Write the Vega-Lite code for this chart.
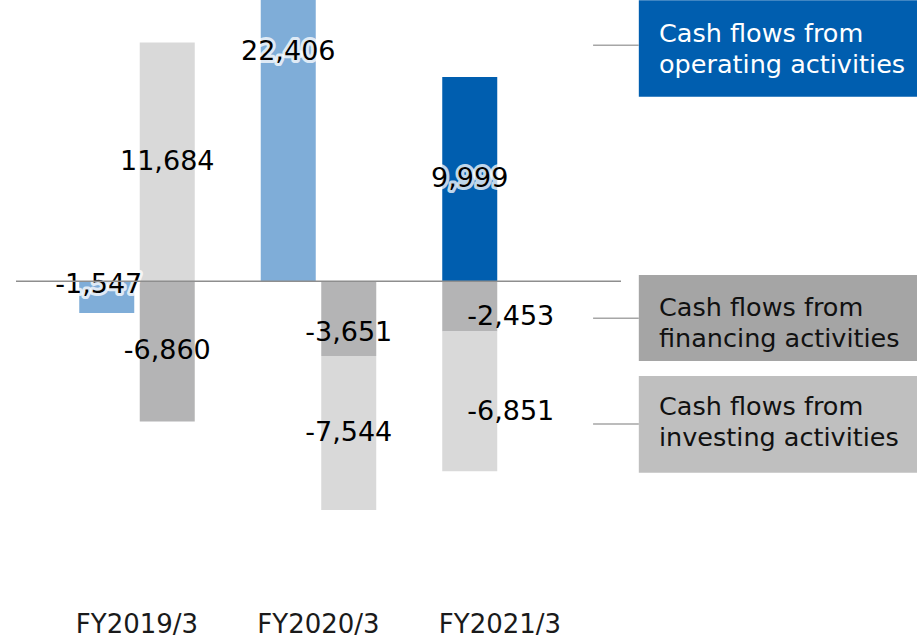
{
  "$schema": "https://vega.github.io/schema/vega-lite/v6.json",
  "background": "white",
  "padding": {"left": 15, "top": 0, "right": 0, "bottom": 0},
  "spacing": 0,
  "bounds": "flush",
  "config": {
    "view": {"stroke": null},
    "font": "DejaVu Sans",
    "locale": {"number": {"decimal": ".", "thousands": ",", "grouping": [3], "currency": ["$", ""], "minus": "-"}}
  },
  "resolve": {"scale": {"color": "independent", "fill": "independent"}},
  "hconcat": [
    {
      "width": 605,
      "height": 600,
      "layer": [
        {
          "data": {"values": [
            {"year": "FY2019/3", "series": "Operating", "column": "left", "amount": -1547},
            {"year": "FY2019/3", "series": "Investing", "column": "right", "amount": 11684},
            {"year": "FY2019/3", "series": "Financing", "column": "right", "amount": -6860},
            {"year": "FY2020/3", "series": "Operating", "column": "left", "amount": 22406},
            {"year": "FY2020/3", "series": "Financing", "column": "right", "amount": -3651},
            {"year": "FY2020/3", "series": "Investing", "column": "right", "amount": -7544},
            {"year": "FY2021/3", "series": "Operating", "column": "left", "amount": 9999},
            {"year": "FY2021/3", "series": "Financing", "column": "left", "amount": -2453},
            {"year": "FY2021/3", "series": "Investing", "column": "left", "amount": -6851}
          ]},
          "transform": [
            {"stack": "amount", "groupby": ["year", "column"], "sort": [{"field": "series", "order": "ascending"}], "offset": "zero", "as": ["lo", "hi"]},
            {"calculate": "(datum.lo + datum.hi) / 2", "as": "mid"}
          ],
          "encoding": {
            "x": {
              "field": "year", "type": "nominal", "sort": null,
              "scale": {"domain": ["FY2019/3", "FY2020/3", "FY2021/3"], "paddingInner": 0.3333, "paddingOuter": 0.3333},
              "axis": {"title": null, "domain": false, "ticks": false, "tickSize": 0, "labelAngle": 0, "labelFont": "DejaVu Sans", "labelFontSize": 26, "labelColor": "#1a1a1a", "labelPadding": 32, "labelBaseline": "alphabetic"}
            },
            "xOffset": {"field": "column", "type": "nominal", "scale": {"domain": ["left", "right"], "paddingInner": 0.0909, "paddingOuter": 0.04545}}
          },
          "layer": [
            {
              "mark": {"type": "bar", "clip": true},
              "encoding": {
                "y": {"field": "hi", "type": "quantitative", "scale": {"domain": [-15600, 13769], "nice": false, "zero": false}, "axis": null},
                "y2": {"field": "lo"},
                "color": {
                  "condition": {"test": "datum.series === 'Operating' && datum.year !== 'FY2021/3'", "value": "#7FADD8"},
                  "field": "series", "type": "nominal",
                  "scale": {"domain": ["Operating", "Financing", "Investing"], "range": ["#005EAF", "#B4B4B5", "#D9D9D9"]},
                  "legend": null
                }
              }
            },
            {
              "transform": [{"filter": "datum.series === 'Operating' && datum.year !== 'FY2019/3'"}],
              "mark": {"type": "text", "font": "DejaVu Sans", "fontSize": 27, "align": "center", "baseline": "middle", "color": "white", "stroke": "white", "strokeWidth": 6, "strokeOpacity": 0.75, "strokeJoin": "round"},
              "encoding": {
                "y": {"field": "mid", "type": "quantitative", "scale": {"domain": [-15600, 13769], "nice": false, "zero": false}, "axis": null},
                "text": {"field": "amount", "type": "quantitative", "format": ","}
              }
            },
            {
              "transform": [{"filter": "datum.series === 'Operating' && datum.year !== 'FY2019/3'"}],
              "mark": {"type": "text", "font": "DejaVu Sans", "fontSize": 27, "align": "center", "baseline": "middle", "color": "#000000"},
              "encoding": {
                "y": {"field": "mid", "type": "quantitative", "scale": {"domain": [-15600, 13769], "nice": false, "zero": false}, "axis": null},
                "text": {"field": "amount", "type": "quantitative", "format": ","}
              }
            },
            {
              "transform": [{"filter": "datum.series === 'Operating' && datum.year === 'FY2019/3'"}],
              "mark": {"type": "text", "font": "DejaVu Sans", "fontSize": 27, "align": "center", "baseline": "middle", "dx": -8, "dy": -12, "color": "white", "stroke": "white", "strokeWidth": 6, "strokeOpacity": 0.75, "strokeJoin": "round"},
              "encoding": {
                "y": {"field": "mid", "type": "quantitative", "scale": {"domain": [-15600, 13769], "nice": false, "zero": false}, "axis": null},
                "text": {"field": "amount", "type": "quantitative", "format": ","}
              }
            },
            {
              "transform": [{"filter": "datum.series === 'Operating' && datum.year === 'FY2019/3'"}],
              "mark": {"type": "text", "font": "DejaVu Sans", "fontSize": 27, "align": "center", "baseline": "middle", "dx": -8, "dy": -12, "color": "#000000"},
              "encoding": {
                "y": {"field": "mid", "type": "quantitative", "scale": {"domain": [-15600, 13769], "nice": false, "zero": false}, "axis": null},
                "text": {"field": "amount", "type": "quantitative", "format": ","}
              }
            },
            {
              "transform": [{"filter": "datum.series !== 'Operating' && (datum.year === 'FY2019/3' || (datum.year === 'FY2020/3' && datum.series === 'Investing'))"}],
              "mark": {"type": "text", "font": "DejaVu Sans", "fontSize": 27, "align": "center", "baseline": "middle", "color": "#000000"},
              "encoding": {
                "y": {"field": "mid", "type": "quantitative", "scale": {"domain": [-15600, 13769], "nice": false, "zero": false}, "axis": null},
                "text": {"field": "amount", "type": "quantitative", "format": ","}
              }
            },
            {
              "transform": [{"filter": "datum.year === 'FY2020/3' && datum.series === 'Financing'"}],
              "mark": {"type": "text", "font": "DejaVu Sans", "fontSize": 27, "align": "center", "baseline": "middle", "dy": 14, "color": "#000000"},
              "encoding": {
                "y": {"field": "mid", "type": "quantitative", "scale": {"domain": [-15600, 13769], "nice": false, "zero": false}, "axis": null},
                "text": {"field": "amount", "type": "quantitative", "format": ","}
              }
            },
            {
              "transform": [{"filter": "datum.year === 'FY2021/3' && datum.series !== 'Operating'"}],
              "mark": {"type": "text", "font": "DejaVu Sans", "fontSize": 27, "align": "center", "baseline": "middle", "dx": 41, "dy": 11, "color": "#000000"},
              "encoding": {
                "y": {"field": "mid", "type": "quantitative", "scale": {"domain": [-15600, 13769], "nice": false, "zero": false}, "axis": null},
                "text": {"field": "amount", "type": "quantitative", "format": ","}
              }
            }
          ]
        },
        {
          "data": {"values": [{}]},
          "mark": {"type": "rule", "color": "#8E8E8E", "strokeWidth": 1.5},
          "encoding": {"y": {"datum": 0, "type": "quantitative"}}
        }
      ]
    },
    {
      "width": 297,
      "height": 600,
      "data": {"values": [
        {"series": "Operating", "label": "Cash flows from\noperating activities", "top": 13760, "bottom": 9036, "lead": 11552, "base": 11728},
        {"series": "Financing", "label": "Cash flows from\nfinancing activities", "top": 308, "bottom": -3901, "lead": -1811, "base": -1698},
        {"series": "Investing", "label": "Cash flows from\ninvesting activities", "top": -4635, "bottom": -9369, "lead": -6985, "base": -6544}
      ]},
      "layer": [
        {
          "mark": {"type": "rect"},
          "encoding": {
            "x": {"datum": 6, "type": "quantitative", "scale": {"domain": [0, 100], "nice": false, "zero": false}, "axis": null},
            "x2": {"datum": 100},
            "y": {"field": "top", "type": "quantitative", "scale": {"domain": [-15600, 13769], "nice": false, "zero": false}, "axis": null},
            "y2": {"field": "bottom"},
            "fill": {"field": "series", "type": "nominal", "scale": {"domain": ["Operating", "Financing", "Investing"], "range": ["#005EAF", "#A5A5A5", "#BFBFBF"]}, "legend": null}
          }
        },
        {
          "mark": {"type": "rule", "color": "#A6A6A6", "strokeWidth": 1.5},
          "encoding": {
            "x": {"datum": -9.4, "type": "quantitative"},
            "x2": {"datum": 6},
            "y": {"field": "lead", "type": "quantitative"}
          }
        },
        {
          "mark": {"type": "text", "font": "DejaVu Sans", "fontSize": 25.5, "align": "left", "baseline": "alphabetic", "lineBreak": "\n", "lineHeight": 31.5},
          "encoding": {
            "x": {"datum": 12.8, "type": "quantitative"},
            "y": {"field": "base", "type": "quantitative"},
            "text": {"field": "label", "type": "nominal"},
            "color": {"condition": {"test": "datum.series === 'Operating'", "value": "white"}, "value": "#111111"}
          }
        }
      ]
    }
  ]
}
